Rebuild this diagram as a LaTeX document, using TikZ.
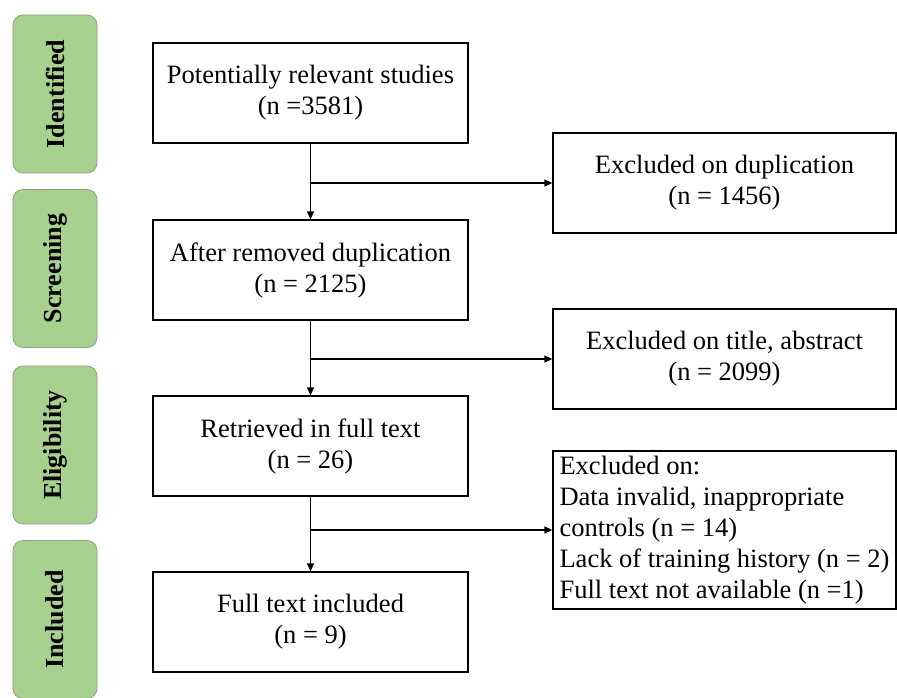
\documentclass[tikz,border=0pt]{standalone}
\usepackage{fontspec}
\setmainfont{Liberation Serif}
\usetikzlibrary{arrows.meta}
\usepackage{xcolor}
\definecolor{stagefill}{RGB}{168,208,142}
\definecolor{stageline}{RGB}{138,162,128}

\begin{document}
\begin{tikzpicture}[x=1pt, y=-1pt]
        % ================= styles =================
        \tikzset{
            % flow boxes in the middle column
            box/.style={draw=black, line width=1.3pt, fill=white, align=center, font=\fontsize{26.5}{31}\selectfont, minimum width=315pt, minimum height=100pt, inner sep=0pt},
            % boxes of excluded records on the right
            exbox/.style={box, minimum width=343pt},
            % green stage labels on the left
            stage/.style={draw=stageline, line width=0.8pt, rounded corners=10pt, fill=stagefill, rotate=90, minimum width=158pt, minimum height=84pt, font=\bfseries\fontsize{26}{30}\selectfont},
            % connectors
            line/.style={line width=1.3pt, black},
            arrow/.style={line, -{Triangle[length=8pt, width=7pt]}}
        }
        \useasboundingbox (0,0) rectangle (897,698);

        % ================= 1. stage labels =================
        \node[stage] (identified) at (55,94) {Identified};
        \node[stage] (screening) at (55,268.5) {Screening};
        \node[stage] (eligibility) at (55,445) {Eligibility};
        \node[stage] (included) at (55,619.5) {Included};

        % ================= 2. middle column =================
        \node[box] (pot) at (310.5,93) {Potentially relevant studies\\(n =3581)};
        \node[box] (after) at (310.5,270) {After removed duplication\\(n = 2125)};
        \node[box] (retr) at (310.5,446) {Retrieved in full text\\(n = 26)};
        \node[box] (full) at (310.5,622) {Full text included\\(n = 9)};

        % ================= 3. excluded boxes =================
        \node[exbox] (dup) at (724.5,183) {Excluded on duplication\\(n = 1456)};
        \node[exbox] (title) at (724.5,359) {Excluded on title, abstract\\(n = 2099)};
        \node[exbox, align=left, minimum height=158pt] (list) at (724.5,530) {Excluded on:\\Data invalid, inappropriate\\controls (n = 14)\\Lack of training history (n = 2)\\Full text not available (n =1)};

        % ================= 4. connectors =================
        \coordinate (s1) at (pot.south |- dup.west);
        \coordinate (s2) at (after.south |- title.west);
        \coordinate (s3) at (retr.south |- list.west);

        \draw[arrow] (pot) -- (after);
        \draw[arrow] (s1) -- (dup);
        \draw[arrow] (after) -- (retr);
        \draw[arrow] (s2) -- (title);
        \draw[arrow] (retr) -- (full);
        \draw[arrow] (s3) -- (list);

    \end{tikzpicture}
\end{document}
